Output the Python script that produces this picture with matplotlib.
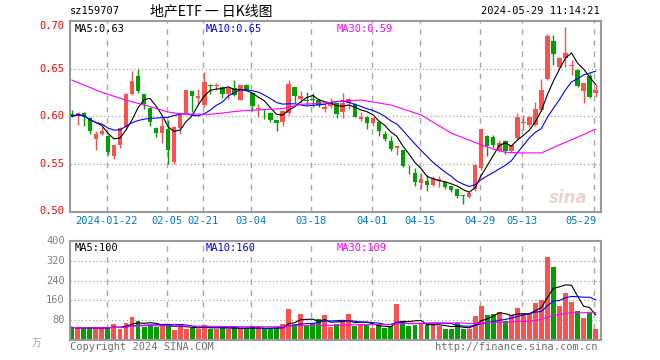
import numpy as np
import pandas as pd
import matplotlib
matplotlib.use("Agg")
import matplotlib.pyplot as plt
from matplotlib.transforms import blended_transform_factory

dates = ["01-12", "01-15", "01-16", "01-17", "01-18", "01-19", "01-22", "01-23", "01-24", "01-25",
         "01-26", "01-29", "01-30", "01-31", "02-01", "02-02", "02-05", "02-06", "02-07", "02-08",
         "02-19", "02-20", "02-21", "02-22", "02-23", "02-26", "02-27", "02-28", "02-29", "03-01",
         "03-04", "03-05", "03-06", "03-07", "03-08", "03-11", "03-12", "03-13", "03-14", "03-15",
         "03-18", "03-19", "03-20", "03-21", "03-22", "03-25", "03-26", "03-27", "03-28", "03-29",
         "04-01", "04-02", "04-03", "04-08", "04-09", "04-10", "04-11", "04-12", "04-15", "04-16",
         "04-17", "04-18", "04-19", "04-22", "04-23", "04-24", "04-25", "04-26", "04-29", "04-30",
         "05-06", "05-07", "05-08", "05-09", "05-10", "05-13", "05-14", "05-15", "05-16", "05-17",
         "05-20", "05-21", "05-22", "05-23", "05-24", "05-27", "05-28", "05-29"]

opens = [0.602, 0.600, 0.603, 0.598, 0.576, 0.581, 0.579, 0.558, 0.570, 0.589,
         0.623, 0.642, 0.623, 0.609, 0.588, 0.582, 0.587, 0.5524, 0.5872, 0.6035,
         0.626, 0.619, 0.6115, 0.6333, 0.632, 0.6312, 0.6236, 0.6299, 0.6174, 0.6323,
         0.6243, 0.6076, 0.6035, 0.6035, 0.5958, 0.5944, 0.6038, 0.6302, 0.6177, 0.6163,
         0.618, 0.617, 0.6076, 0.6108, 0.6135, 0.6049, 0.6142, 0.6128, 0.5972, 0.5997,
         0.5927, 0.5944, 0.5816, 0.5736, 0.5667, 0.5649, 0.5444, 0.5406, 0.5302, 0.5316,
         0.5274, 0.5319, 0.5309, 0.5267, 0.5233, 0.517, 0.5156, 0.5233, 0.5458, 0.5795,
         0.578, 0.5632, 0.5736, 0.5632, 0.5771, 0.5927, 0.591, 0.591, 0.6066, 0.6396,
         0.6795, 0.6517, 0.6615, 0.6524, 0.649, 0.6267, 0.642, 0.624]
highs = [0.607, 0.604, 0.604, 0.599, 0.584, 0.589, 0.580, 0.570, 0.589, 0.624,
         0.648, 0.650, 0.6235, 0.610, 0.589, 0.600, 0.596, 0.590, 0.603, 0.628,
         0.627, 0.6288, 0.6469, 0.6335, 0.6347, 0.632, 0.6305, 0.6385, 0.633, 0.634,
         0.6243, 0.6132, 0.608, 0.604, 0.596, 0.607, 0.6385, 0.6302, 0.6267, 0.6257,
         0.6246, 0.6177, 0.6135, 0.6188, 0.6142, 0.624, 0.6188, 0.614, 0.6049, 0.5999,
         0.5997, 0.595, 0.584, 0.5788, 0.5691, 0.565, 0.5493, 0.5458, 0.5406, 0.5378,
         0.5372, 0.5372, 0.531, 0.527, 0.5236, 0.5172, 0.5205, 0.550, 0.587, 0.580,
         0.580, 0.5753, 0.5753, 0.5701, 0.6038, 0.6014, 0.600, 0.6153, 0.6396, 0.6865,
         0.6858, 0.662, 0.6941, 0.6594, 0.650, 0.635, 0.6455, 0.634]
lows = [0.599, 0.591, 0.590, 0.581, 0.565, 0.580, 0.559, 0.555, 0.567, 0.587,
        0.622, 0.624, 0.608, 0.590, 0.5785, 0.572, 0.550, 0.550, 0.5812, 0.603,
        0.6045, 0.6115, 0.6097, 0.6236, 0.6278, 0.6194, 0.6184, 0.6212, 0.617, 0.626,
        0.6056, 0.5993, 0.5976, 0.594, 0.5847, 0.5899, 0.6014, 0.6142, 0.6142, 0.6118,
        0.6094, 0.6094, 0.6049, 0.6083, 0.5979, 0.5979, 0.6073, 0.599, 0.5955, 0.5865,
        0.5899, 0.5795, 0.574, 0.5632, 0.5597, 0.547, 0.5389, 0.5267, 0.524, 0.5215,
        0.5267, 0.526, 0.524, 0.5205, 0.5139, 0.5076, 0.5146, 0.522, 0.544, 0.558,
        0.567, 0.562, 0.560, 0.562, 0.576, 0.5858, 0.589, 0.590, 0.606, 0.6385,
        0.6535, 0.651, 0.6517, 0.6431, 0.6309, 0.6142, 0.6188, 0.620]
closes = [0.600, 0.603, 0.599, 0.584, 0.581, 0.584, 0.5625, 0.570, 0.588, 0.623,
          0.6375, 0.626, 0.613, 0.594, 0.5826, 0.590, 0.5646, 0.589, 0.6017, 0.6271,
          0.6208, 0.621, 0.6358, 0.6316, 0.6333, 0.6236, 0.6298, 0.6219, 0.6323, 0.6271,
          0.6104, 0.608, 0.603, 0.5958, 0.593, 0.6059, 0.6337, 0.6212, 0.6212, 0.616,
          0.617, 0.6118, 0.6101, 0.6146, 0.6021, 0.6142, 0.6177, 0.5997, 0.5997, 0.5927,
          0.5986, 0.5847, 0.576, 0.5656, 0.5691, 0.5476, 0.5441, 0.5309, 0.5337, 0.5281,
          0.5354, 0.5337, 0.5257, 0.5226, 0.5163, 0.5167, 0.5198, 0.5493, 0.5865, 0.5684,
          0.570, 0.5719, 0.5632, 0.5701, 0.5997, 0.5944, 0.5997, 0.6076, 0.6274, 0.6847,
          0.6656, 0.6615, 0.6663, 0.6542, 0.6316, 0.6344, 0.6198, 0.6274]
volumes = [52, 48, 52, 49, 49, 49, 52, 65, 47, 68,
           93, 77, 55, 61, 55, 61, 61, 41, 64, 45,
           51, 47, 60, 47, 45, 53, 45, 53, 45, 45,
           56, 49, 45, 47, 51, 64, 125, 67, 105, 59,
           68, 84, 101, 52, 64, 76, 105, 57, 64, 60,
           49, 60, 49, 57, 145, 69, 57, 61, 67, 61,
           65, 59, 45, 45, 68, 45, 47, 97, 137, 101,
           105, 113, 79, 101, 129, 109, 109, 149, 161, 333,
           293, 137, 189, 153, 117, 89, 109, 45]

# 30-day price average (needs history before the window)
ma30_idx = [0, 5, 9, 13, 16, 18, 23, 28, 35, 38, 41, 46, 48, 50, 53, 58, 63, 68, 70, 72, 75, 78, 81, 84, 87]
ma30_val = [0.638, 0.625, 0.617, 0.610, 0.6045, 0.6025, 0.602, 0.6056, 0.608, 0.6125, 0.6135, 0.6163,
            0.617, 0.615, 0.6118, 0.6014, 0.5823, 0.570, 0.5656, 0.5622, 0.5615, 0.5615, 0.570, 0.578, 0.5865]

tick_dates = ["01-22", "02-05", "02-21", "03-04", "03-18", "04-01", "04-15", "04-29", "05-13", "05-29"]
price_ticks = [0.50, 0.55, 0.60, 0.65, 0.70]
vol_ticks = [80, 160, 240, 320, 400]

RED = "#ff5050"
GREEN = "#00a000"
GRID = "#a8a8a8"
MONO = "DejaVu Sans Mono"
LW = 0.8

x = np.arange(len(dates))
o = np.array(opens)
c = np.array(closes)
up = c >= o
colors = [RED if u else GREEN for u in up]
close_s = pd.Series(closes)
ma5 = close_s.rolling(5, min_periods=1).mean()
ma10 = close_s.rolling(10, min_periods=1).mean()
vol_s = pd.Series(volumes)
vma5 = vol_s.rolling(5, min_periods=1).mean()
vma10 = vol_s.rolling(10, min_periods=1).mean()
vma30 = vol_s.rolling(30, min_periods=1).mean()
tick_pos = [dates.index(d) for d in tick_dates]

W, H = 660, 360
fig = plt.figure(figsize=(6.6, 3.6), dpi=100)
fig.patch.set_facecolor("white")
ax = fig.add_axes([70 / W, 1 - 211.5 / H, 531 / W, 190.5 / H])
axv = fig.add_axes([70 / W, 1 - 340.3 / H, 531 / W, 99.6 / H])
xlim = (-0.3, 87.9)

for a in (ax, axv):
    a.set_xlim(*xlim)
    for s in a.spines.values():
        s.set_color("#9a9a9a")
        s.set_linewidth(1.5)
    a.tick_params(length=0)
    a.set_xticks([])
    for p in tick_pos:
        a.axvline(p - 0.2, color=GRID, lw=1, ls=(0, (4, 4)), zorder=0)

# price panel
ax.set_ylim(0.50, 0.70)
for v in [0.55, 0.60, 0.65]:
    ax.axhline(v, color=GRID, lw=0.9, ls=(0, (1, 2)), zorder=0)
ax.vlines(x, lows, highs, colors=colors, lw=1, zorder=2)
body_lo = np.minimum(o, c)
body_h = np.maximum(np.abs(c - o), 0.0009)
ax.bar(x, body_h, bottom=body_lo, width=0.75, color=colors, zorder=3)
ax.plot(x, ma5, color="black", lw=LW, zorder=4)
ax.plot(x, ma10, color="#0000ff", lw=LW, zorder=4)
ax.plot(ma30_idx, ma30_val, color="#ff00ff", lw=LW, zorder=4)
ax.set_yticks(price_ticks)
ax.set_yticklabels([])
for v in price_ticks:
    ax.text(-0.01, v, "%.2f" % v, transform=blended_transform_factory(ax.transAxes, ax.transData),
            ha="right", va="top" if v == 0.70 else "center", color="red", fontsize=7.5, family=MONO)
trans = blended_transform_factory(ax.transData, ax.transAxes)
for p, d in zip(tick_pos, tick_dates):
    lab = "2024-" + d if d == tick_dates[0] else d
    if d == tick_dates[-1]:
        ax.text(p + 0.1, -0.025, lab, transform=trans, ha="right", va="top", color="#0078c8", fontsize=7.5, family=MONO)
    else:
        ax.text(p - 0.2, -0.025, lab, transform=trans, ha="center", va="top", color="#0078c8", fontsize=7.5, family=MONO)
ax.text(0.008, 0.985, "MA5:0.63", transform=ax.transAxes, ha="left", va="top", fontsize=7.5, family=MONO, color="black")
ax.text(0.255, 0.985, "MA10:0.65", transform=ax.transAxes, ha="left", va="top", fontsize=7.5, family=MONO, color="#0000ff")
ax.text(0.502, 0.985, "MA30:0.59", transform=ax.transAxes, ha="left", va="top", fontsize=7.5, family=MONO, color="#ff00ff")
ax.text(0.975, 0.07, "sina", transform=ax.transAxes, ha="right", va="center", fontsize=12,
        style="italic", weight="bold", color="#e8c8c8", alpha=0.8, zorder=1)

# volume panel
axv.set_ylim(0, 400)
for v in [80, 160, 240, 320]:
    axv.axhline(v, color=GRID, lw=0.9, ls=(0, (1, 2)), zorder=0)
axv.bar(x, volumes, width=0.82, color=colors, zorder=2)
axv.plot(x, vma5, color="black", lw=LW, zorder=3)
axv.plot(x, vma10, color="#0000ff", lw=LW, zorder=3)
axv.plot(x, vma30, color="#ff00ff", lw=LW, zorder=3)
axv.set_yticks(vol_ticks)
axv.set_yticklabels([])
for v in vol_ticks:
    axv.text(-0.01, v, str(v), transform=blended_transform_factory(axv.transAxes, axv.transData),
             ha="right", va="center", color="#808080", fontsize=7.5, family=MONO)
axv.text(0.008, 0.975, "MA5:100", transform=axv.transAxes, ha="left", va="top", fontsize=7.5, family=MONO, color="black")
axv.text(0.255, 0.975, "MA10:160", transform=axv.transAxes, ha="left", va="top", fontsize=7.5, family=MONO, color="#0000ff")
axv.text(0.502, 0.975, "MA30:109", transform=axv.transAxes, ha="left", va="top", fontsize=7.5, family=MONO, color="#ff00ff")

# header and footer
fig.text(70 / W, 1 - 11 / H, "sz159707", ha="left", va="center", fontsize=7.5, family=MONO)
fig.text(211 / W, 1 - 11 / H, "地产ETF 一 日K线图", ha="center", va="center", fontsize=10,
         family=["Noto Sans CJK SC", "DejaVu Sans"])
fig.text(600 / W, 1 - 11 / H, "2024-05-29 11:14:21", ha="right", va="center", fontsize=7.5, family=MONO)
fig.text(37 / W, 1 - 343 / H, "万", ha="center", va="center", fontsize=7, color="#a0a0a0",
         family=["Noto Sans CJK SC", "DejaVu Sans"])
fig.text(70 / W, 1 - 347 / H, "Copyright 2024 SINA.COM", ha="left", va="center", fontsize=7.5, family=MONO, color="#707070")
fig.text(598 / W, 1 - 347 / H, "http://finance.sina.com.cn", ha="right", va="center", fontsize=7.5, family=MONO, color="#707070")

fig.savefig("out.png", dpi=100)
